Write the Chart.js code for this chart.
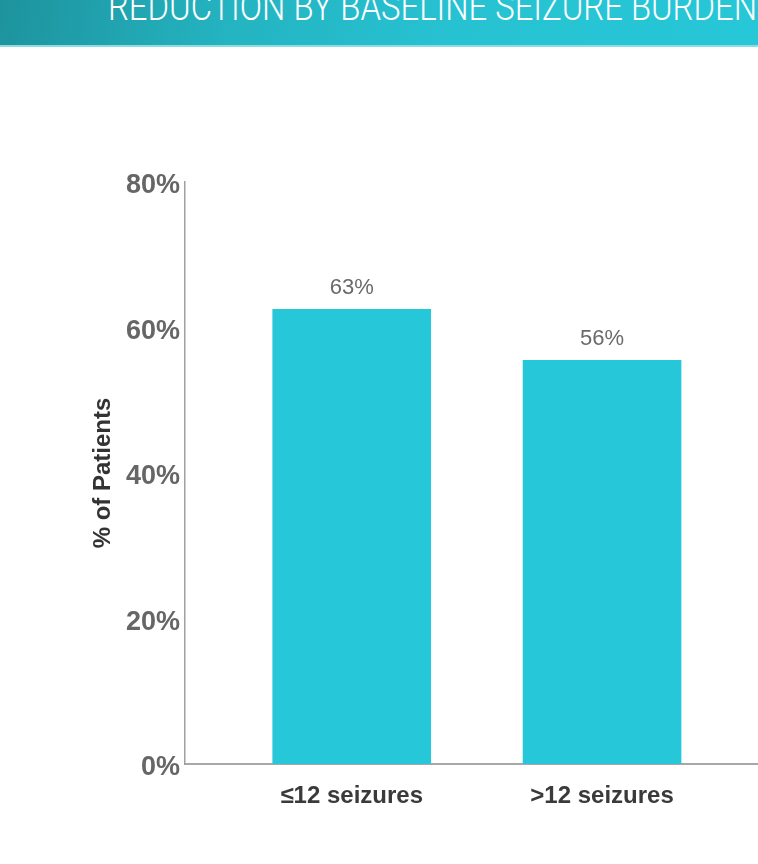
<!DOCTYPE html>
<html>
<head>
<meta charset="utf-8">
<script src="https://cdn.jsdelivr.net/npm/chart.js@4"></script>
<style>
  html, body { margin: 0; padding: 0; background: #fff; }
  body { width: 758px; height: 864px; position: relative; overflow: hidden; }
  .banner {
    position: absolute; left: 0; top: 0; width: 758px; height: 45px;
    background: linear-gradient(100deg, #1d939d 0%, #24b3c1 30%, #27c2d2 60%, #26c7d7 100%);
    border-bottom: 2px solid #8edbe3;
    overflow: hidden; z-index: 2;
  }
  .banner span {
    position: absolute; left: 108px; top: -12px;
    font-family: Roboto, "Liberation Sans", sans-serif; font-weight: 300;
    font-size: 38px; line-height: 38px; color: #fff; white-space: nowrap;
    transform-origin: 0 0;
  }
  .wrap { position: absolute; left: 0; top: 0; width: 758px; height: 864px; }
</style>
</head>
<body>
<div class="banner"><span id="titulo">REDUCTION BY BASELINE SEIZURE BURDEN</span></div>
<div class="wrap"><canvas id="grafico"></canvas></div>
<script>
// datos del grafico
const categorias = ['≤12 seizures', '>12 seizures'];
const pacientes = [62.5, 55.5];
const etiquetas = ['63%', '56%'];
const ticksY = [0, 20, 40, 60, 80];

// ajustar el titulo al ancho del banner
const titulo = document.getElementById('titulo');
const anchoTitulo = titulo.getBoundingClientRect().width;
titulo.style.transform = 'scaleX(' + (649 / anchoTitulo) + ')';

const FUENTE = '"Liberation Sans", Arial, Helvetica, sans-serif';

// etiquetas de valor encima de cada barra
const etiquetasBarras = {
  id: 'etiquetasBarras',
  afterDatasetsDraw(chart) {
    const ctx = chart.ctx;
    const meta = chart.getDatasetMeta(0);
    ctx.save();
    ctx.font = '22px ' + FUENTE;
    ctx.fillStyle = '#6a6a6a';
    ctx.textAlign = 'center';
    ctx.textBaseline = 'alphabetic';
    meta.data.forEach((bar, i) => {
      ctx.fillText(etiquetas[i], bar.x, bar.y - 15);
    });
    ctx.restore();
  }
};

new Chart(document.getElementById('grafico'), {
  type: 'bar',
  data: {
    datasets: [{
      label: '% of Patients',
      data: pacientes.map((v, i) => ({ x: i + 1, y: v })),
      backgroundColor: '#26c7d9',
      borderWidth: 0,
      barThickness: 158
    }]
  },
  options: {
    responsive: true,
    maintainAspectRatio: false,
    animation: false,
    layout: { padding: { top: 182, left: 0, right: 0, bottom: 0 } },
    plugins: {
      legend: { display: false },
      tooltip: { enabled: false }
    },
    scales: {
      x: {
        type: 'linear',
        offset: false,
        min: 0.334,
        max: 2.623,
        grid: { display: false, drawTicks: false, offset: false },
        border: { display: true, color: '#a8a8a8', width: 2 },
        afterBuildTicks: (scale) => {
          scale.ticks = categorias.map((c, i) => ({ value: i + 1 }));
        },
        afterFit: (scale) => { scale.height = 100; },
        ticks: {
          padding: 18,
          autoSkip: false,
          maxRotation: 0,
          color: '#3a3a3a',
          font: { family: FUENTE, size: 24, weight: 'bold' },
          callback: (v) => categorias[v - 1] ?? ''
        }
      },
      y: {
        min: 0,
        max: 80,
        grid: { display: false, drawTicks: false },
        border: { display: true, color: '#a0a0a0', width: 1.5 },
        afterBuildTicks: (scale) => {
          scale.ticks = ticksY.map(v => ({ value: v }));
        },
        afterFit: (scale) => { scale.width = 185; },
        ticks: {
          padding: 5,
          labelOffset: 4,
          color: '#666666',
          font: { family: FUENTE, size: 27, weight: 'bold' },
          callback: (v) => v + '%'
        },
        title: {
          display: true,
          text: '% of Patients',
          color: '#333333',
          padding: { top: 89, bottom: 0 },
          font: { family: FUENTE, size: 24, weight: 'bold' }
        }
      }
    }
  },
  plugins: [etiquetasBarras]
});
</script>
</body>
</html>
